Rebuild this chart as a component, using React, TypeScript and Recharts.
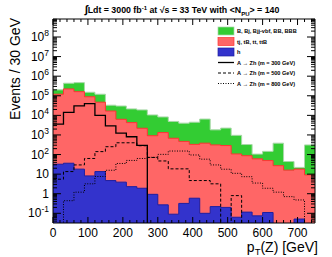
import React from 'react';
import { ComposedChart, Area, Line, XAxis, YAxis } from 'recharts';

// lower edges of the 30 GeV bins
const binLow = [0, 30, 60, 90, 120, 150, 180, 210, 240, 270, 300, 330, 360, 390, 420, 450, 480, 510, 540, 570, 600, 630, 660, 690, 720];
const X_MAX = 750;

// backgrounds (events per bin)
const hBkg = [32, 36, 18, 8.1, 13.5, 4.7, 3.9, 2.3, 1.9, 0.93, 0.27, 0.09, 0.32, 0.59, 0.1, 0.22, 0.2, 0.063, 0.115, 0.074, 0.11, 0, 0, 0.051, 0];
const topBkg = [120000, 224000, 162000, 89000, 47000, 16600, 6300, 4270, 2190, 911, 1320, 676, 468, 330, 380, 309, 288, 107, 87, 60, 49, 27, 16, 18, 9.1];
const bBkg = [80000, 213000, 306000, 62000, 73000, 16400, 23700, 17100, 16800, 9590, 6980, 4220, 3530, 4140, 6080, 1510, 1950, 848, 237, 45, 96, 353, 28, 4, 300];

// signals
const sig300 = [3550, 14100, 30200, 39800, 10000, 2880, 1230, 810, 295, 0, 0, 0, 0, 0, 0, 0, 0, 0, 0, 0, 0, 0, 0, 0, 0];
const sig500 = [5.5, 13.5, 29.5, 63, 141, 251, 398, 398, 282, 71, 47, 18.6, 18.6, 4.7, 4.7, 3.2, 0, 0.8, 0, 0, 0, 0, 0, 0, 0];
const sig800 = [0, 0.44, 1.2, 3.2, 7.6, 15.8, 35, 50, 63, 72, 102, 151, 151, 95, 58, 29.5, 17.8, 11, 7.4, 3.5, 1.9, 1.2, 0.71, 0.48, 0];

const Y_MIN = 0.032;
const Y_MAX = 8.3e8;
const FLOOR = 1e-4;
const FONT = '"Liberation Sans", Arial, Helvetica, sans-serif';

const clamp = (v: number) => (v > 0 ? v : FLOOR);

const rows = binLow.map((x, i) => {
  const h = hBkg[i];
  const red = h + topBkg[i];
  const green = red + bBkg[i];
  return {
    x,
    blue: clamp(h),
    red: clamp(red),
    green: clamp(green),
    s300: clamp(sig300[i]),
    s500: clamp(sig500[i]),
    s800: clamp(sig800[i]),
  };
});
const data = [...rows, { ...rows[rows.length - 1], x: X_MAX }];

const xTicks: number[] = [];
for (let v = 0; v <= X_MAX; v += 20) xTicks.push(v);

const yTicks: number[] = [];
for (let k = -2; k <= 8; k++) {
  for (let m = 1; m <= 9; m++) {
    const v = m * Math.pow(10, k);
    if (v >= Y_MIN && v <= Y_MAX) yTicks.push(v);
  }
}

const XTick = (props: any) => {
  const { x, y, payload, side } = props;
  const v = payload.value;
  const major = v % 100 === 0;
  const len = major ? 6 : 3;
  const dir = side === 'bottom' ? -1 : 1;
  return (
    <g>
      <line x1={x} y1={y} x2={x} y2={y + dir * len} stroke="#000" strokeWidth={1} />
      {side === 'bottom' && major && (
        <text x={x} y={y + 13.5} textAnchor="middle" fontSize={12} fontFamily={FONT} fill="#000">
          {v}
        </text>
      )}
    </g>
  );
};

const YTick = (props: any) => {
  const { x, y, payload, side } = props;
  const v = payload.value;
  const lg = Math.log10(v);
  const e = Math.round(lg);
  const major = Math.abs(lg - e) < 1e-6;
  const len = major ? 8 : 4;
  const dir = side === 'left' ? 1 : -1;
  let label: React.ReactNode = null;
  if (side === 'left' && major) {
    label =
      e === 0 ? (
        '1'
      ) : e === 1 ? (
        '10'
      ) : (
        <>
          10
          <tspan fontSize={8.5} dy={-5}>
            {e}
          </tspan>
        </>
      );
  }
  return (
    <g>
      <line x1={x} y1={y} x2={x + dir * len} y2={y} stroke="#000" strokeWidth={1} />
      {label !== null && (
        <text x={x - 4} y={y + 4} textAnchor="end" fontSize={12} fontFamily={FONT} fill="#000">
          {label}
        </text>
      )}
    </g>
  );
};

const legendRows = [
  { label: 'B, Bj, Bjj-vbf, BB, BBB', kind: 'box', fill: '#33cc33', stroke: '#a8d8a8' },
  { label: 'tj, tB, tt, ttB', kind: 'box', fill: '#ff6666', stroke: '#ff3333' },
  { label: 'h', kind: 'box', fill: '#3333cc', stroke: '#1f1fa0' },
  { label: 'A \u2192 Zh (m = 300 GeV)', kind: 'line', dash: undefined, width: 1.3 },
  { label: 'A \u2192 Zh (m = 500 GeV)', kind: 'line', dash: '3 2', width: 1 },
  { label: 'A \u2192 Zh (m = 800 GeV)', kind: 'line', dash: '1 1.5', width: 1 },
];

const Overlay = () => (
  <svg width={332} height={257} style={{ position: 'absolute', left: 0, top: 0, pointerEvents: 'none' }}>
    <text x={182} y={13} textAnchor="middle" fontSize={8.8} fontWeight="bold" fontFamily={FONT} fill="#000">
      <tspan fontSize={11}>{'\u222B'}</tspan>
      Ldt = 3000 fb
      <tspan fontSize={6} dy={-3.5}>-1</tspan>
      <tspan dy={3.5}> at {'\u221A'}s = 33 TeV with &lt;N</tspan>
      <tspan fontSize={6} dy={2.5}>PU</tspan>
      <tspan dy={-2.5}>&gt; = 140</tspan>
    </text>
    <text
      x={19.5}
      y={18}
      transform="rotate(-90 19.5 18)"
      textAnchor="end"
      fontSize={14}
      fontFamily={FONT}
      fill="#000"
    >
      Events / 30 GeV
    </text>
    <text x={318} y={251.5} textAnchor="end" fontSize={14} fontFamily={FONT} fill="#000">
      p<tspan fontSize={9.5} dy={3.5}>T</tspan>
      <tspan dy={-3.5}>(Z) [GeV]</tspan>
    </text>
    {legendRows.map((r, i) => {
      const cy = 31 + i * 10.5;
      return (
        <g key={r.label}>
          {r.kind === 'box' ? (
            <rect x={218} y={cy - 4} width={16} height={8} fill={r.fill} stroke={r.stroke} strokeWidth={0.7} />
          ) : (
            <line x1={218} y1={cy} x2={234} y2={cy} stroke="#000" strokeWidth={r.width} strokeDasharray={r.dash} />
          )}
          <text x={237} y={cy + 2} fontSize={5.6} fontWeight="bold" fontFamily={FONT} fill="#000">
            {r.label}
          </text>
        </g>
      );
    })}
  </svg>
);

const App: React.FC = () => {
  return (
    <div style={{ position: 'absolute', left: 0, top: 0, width: 332, height: 257, background: '#fff' }}>
      <ComposedChart width={332} height={257} data={data} margin={{ top: 18, right: 16, bottom: 33, left: 52 }}>
        <XAxis
          xAxisId="b"
          type="number"
          dataKey="x"
          domain={[0, X_MAX]}
          ticks={xTicks}
          interval={0}
          height={1}
          tickSize={0}
          tickMargin={0}
          tickLine={false}
          axisLine={{ stroke: '#000' }}
          tick={(p: any) => <XTick {...p} side="bottom" />}
          allowDataOverflow
        />
        <XAxis
          xAxisId="t"
          orientation="top"
          type="number"
          dataKey="x"
          domain={[0, X_MAX]}
          ticks={xTicks}
          interval={0}
          height={1}
          tickSize={0}
          tickMargin={0}
          tickLine={false}
          axisLine={{ stroke: '#000' }}
          tick={(p: any) => <XTick {...p} side="top" />}
          allowDataOverflow
        />
        <YAxis
          yAxisId="l"
          type="number"
          scale="log"
          domain={[Y_MIN, Y_MAX]}
          ticks={yTicks}
          interval={0}
          width={1}
          tickSize={0}
          tickMargin={0}
          tickLine={false}
          axisLine={{ stroke: '#000' }}
          tick={(p: any) => <YTick {...p} side="left" />}
          allowDataOverflow
        />
        <YAxis
          yAxisId="r"
          orientation="right"
          type="number"
          scale="log"
          domain={[Y_MIN, Y_MAX]}
          ticks={yTicks}
          interval={0}
          width={1}
          tickSize={0}
          tickMargin={0}
          tickLine={false}
          axisLine={{ stroke: '#000' }}
          tick={(p: any) => <YTick {...p} side="right" />}
          allowDataOverflow
        />
        <Area
          xAxisId="b"
          yAxisId="l"
          type="stepAfter"
          dataKey="green"
          baseValue={Y_MIN}
          fill="#33cc33"
          fillOpacity={1}
          stroke="#a8d8a8"
          strokeWidth={1}
          isAnimationActive={false}
        />
        <Area
          xAxisId="b"
          yAxisId="l"
          type="stepAfter"
          dataKey="red"
          baseValue={Y_MIN}
          fill="#ff6666"
          fillOpacity={1}
          stroke="#ff3333"
          strokeWidth={1}
          isAnimationActive={false}
        />
        <Area
          xAxisId="b"
          yAxisId="l"
          type="stepAfter"
          dataKey="blue"
          baseValue={Y_MIN}
          fill="#3333cc"
          fillOpacity={1}
          stroke="#1f1fa0"
          strokeWidth={1}
          isAnimationActive={false}
        />
        <Line xAxisId="b" yAxisId="l" type="stepAfter" dataKey="s300" stroke="#000" strokeWidth={1.3} dot={false} isAnimationActive={false} />
        <Line xAxisId="b" yAxisId="l" type="stepAfter" dataKey="s500" stroke="#000" strokeWidth={1} strokeDasharray="3 2" dot={false} isAnimationActive={false} />
        <Line xAxisId="b" yAxisId="l" type="stepAfter" dataKey="s800" stroke="#000" strokeWidth={1} strokeDasharray="1 1.5" dot={false} isAnimationActive={false} />
        <Line xAxisId="t" yAxisId="r" type="stepAfter" dataKey="green" stroke="none" dot={false} activeDot={false} isAnimationActive={false} />
      </ComposedChart>
      <Overlay />
    </div>
  );
};

export default App;
